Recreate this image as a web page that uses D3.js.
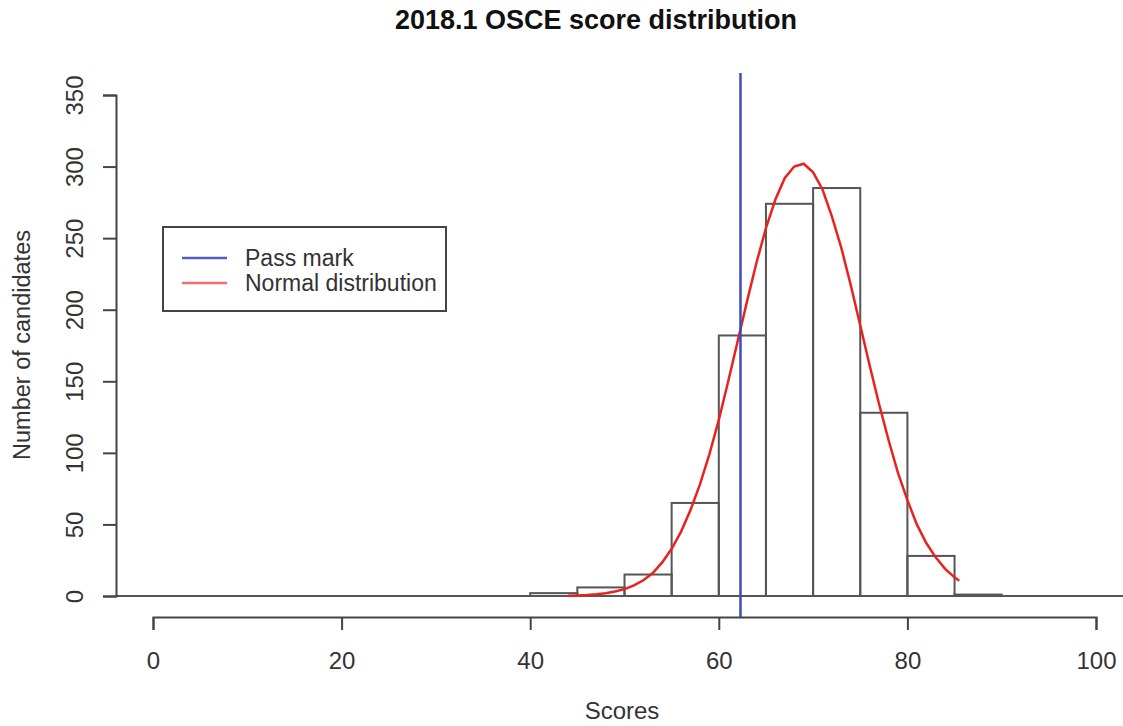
<!DOCTYPE html>
<html lang="en">
<head>
    <meta charset="UTF-8">
    <title>2018.1 OSCE score distribution</title>
    <script src="https://d3js.org/d3.v7.min.js"></script>
    <style>
        body { margin: 0; background: #fff; }
        text { font-family: "Liberation Sans", Arial, sans-serif; fill: #333; }
    </style>
</head>
<body>
</body>
<script>
    const width = 1123;
    const height = 726;

    // histogram bins (left edge) and counts
    const binStarts = [40, 45, 50, 55, 60, 65, 70, 75, 80, 85];
    const binWidth = 5;
    const counts = [2, 6, 15, 65, 182, 274, 285, 128, 28, 1];

    // fitted normal curve
    const curveX = [44, 45, 46, 47, 48, 49, 50, 51, 52, 53, 54, 55, 56, 57, 58, 59, 60, 61, 62, 63, 64,
        65, 66, 67, 68, 69, 70, 71, 72, 73, 74, 75, 76, 77, 78, 79, 80, 81, 82, 83, 84, 85, 85.5];
    const curveY = [0.2, 0.4, 0.7, 1.2, 1.9, 3.1, 4.8, 7.4, 11, 16, 23.5, 33, 45, 60, 78, 99, 123, 150, 178, 206, 233,
        257, 277, 292, 300, 302, 296, 284, 265, 243, 217, 189, 161, 134, 109, 86, 67, 50, 37, 27, 19, 13, 10.7];

    const passMark = 62.3;
    const xTicks = [0, 20, 40, 60, 80, 100];
    const yTicks = [0, 50, 100, 150, 200, 250, 300, 350];

    const x = d3.scaleLinear().domain([0, 100]).range([153, 1096]);
    const y = d3.scaleLinear().domain([0, 350]).range([596, 95]);

    const svg = d3.select("body").append("svg")
        .attr("width", width)
        .attr("height", height);

    // title
    svg.append("text")
        .attr("x", 596).attr("y", 29)
        .attr("text-anchor", "middle")
        .style("font-size", "27px").style("font-weight", "bold").style("fill", "#111")
        .text("2018.1 OSCE score distribution");

    // bars
    svg.selectAll("rect.bar")
        .data(binStarts)
        .enter().append("rect")
        .attr("class", "bar")
        .attr("x", d => x(d))
        .attr("y", (d, i) => y(counts[i]))
        .attr("width", x(binWidth) - x(0))
        .attr("height", (d, i) => y(0) - y(counts[i]))
        .attr("fill", "none")
        .attr("stroke", "#555")
        .attr("stroke-width", 2);

    // baseline
    svg.append("line")
        .attr("x1", 116).attr("x2", width)
        .attr("y1", y(0)).attr("y2", y(0))
        .attr("stroke", "#555").attr("stroke-width", 2);

    // y axis
    const yAxis = svg.append("g")
        .attr("transform", "translate(116,0)")
        .call(d3.axisLeft(y).tickValues(yTicks).tickSize(13));
    yAxis.select(".domain").attr("stroke", "#444").attr("stroke-width", 2);
    yAxis.selectAll(".tick line").attr("stroke", "#444").attr("stroke-width", 2);
    yAxis.selectAll(".tick text")
        .attr("transform", "rotate(-90)")
        .attr("x", null).attr("dy", null)
        .attr("y", -33)
        .attr("text-anchor", "middle")
        .style("font-size", "24px").style("fill", "#333");

    // x axis
    const xAxis = svg.append("g")
        .attr("transform", "translate(0,617)")
        .call(d3.axisBottom(x).tickValues(xTicks).tickSize(13));
    xAxis.select(".domain").attr("stroke", "#444").attr("stroke-width", 2);
    xAxis.selectAll(".tick line").attr("stroke", "#444").attr("stroke-width", 2);
    xAxis.selectAll(".tick text")
        .attr("dy", null).attr("y", 52)
        .style("font-size", "24px").style("fill", "#333");

    // axis titles
    svg.append("text")
        .attr("transform", "translate(30,345) rotate(-90)")
        .attr("text-anchor", "middle")
        .style("font-size", "23.5px")
        .text("Number of candidates");
    svg.append("text")
        .attr("x", 622).attr("y", 719)
        .attr("text-anchor", "middle")
        .style("font-size", "24px")
        .text("Scores");

    // normal curve
    const line = d3.line()
        .x((d, i) => x(curveX[i]))
        .y(d => y(d));
    svg.append("path")
        .datum(curveY)
        .attr("d", line)
        .attr("fill", "none")
        .attr("stroke", "#e8231f")
        .attr("stroke-width", 2.5);

    // pass mark
    svg.append("line")
        .attr("x1", x(passMark)).attr("x2", x(passMark))
        .attr("y1", 73).attr("y2", 617)
        .attr("stroke", "#3c4cba").attr("stroke-width", 2.5);

    // legend
    const legend = svg.append("g");
    legend.append("rect")
        .attr("x", 163).attr("y", 227)
        .attr("width", 283).attr("height", 84)
        .attr("fill", "#fff")
        .attr("stroke", "#444").attr("stroke-width", 2);
    const legendItems = [["Pass mark", "#5060c0"], ["Normal distribution", "#f07070"]];
    legendItems.forEach(([label, color], i) => {
        legend.append("line")
            .attr("x1", 182).attr("x2", 227)
            .attr("y1", 258 + i * 25).attr("y2", 258 + i * 25)
            .attr("stroke", color).attr("stroke-width", 2.5);
        legend.append("text")
            .attr("x", 245).attr("y", 266 + i * 25)
            .style("font-size", "23px")
            .text(label);
    });
</script>
</html>
